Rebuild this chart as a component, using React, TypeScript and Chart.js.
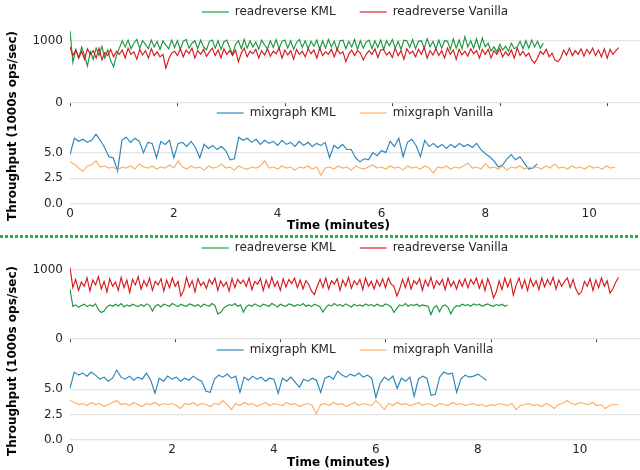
import React, { useEffect, useRef } from "react";
import { Chart, registerables } from "chart.js";

Chart.register(...registerables);

const FONT = "'DejaVu Sans', 'Liberation Sans', sans-serif";
const TEXT = "#262626";
const GRID = "#e4e4e4";

// tick labels
const X_TICKS = [0, 2, 4, 6, 8, 10];
const RR_Y_TICKS = [0, 1000];
const MIX_Y_TICKS = [0, 2.5, 5.0];

// sampling intervals (minutes)
const RR_STEP_MIN = 0.054;
const MIX_STEP_MIN = 1 / 12;

// axis limits (minutes)
const TOP_RR_XMAX = 10.6;
const TOP_MIX_XMAX = 10.98;
const BOT_RR_XMAX = 10.83;
const BOT_MIX_XMAX = 11.18;

// ---------- Top run ----------
const topReadreverseKML = [
  1160, 650, 860, 720, 900, 760, 590, 820, 700, 880, 760, 910, 720, 850, 680, 580, 760, 880,
  1000, 900, 1010, 870, 960, 1020, 880, 1000, 940, 870, 1010, 900, 990, 860, 1000, 930, 870, 1010,
  890, 1000, 860, 990, 1020, 880, 960, 1000, 870, 1010, 900, 850, 990, 1010, 880, 1000, 860, 980,
  1010, 890, 780, 940, 1000, 870, 1020, 880, 1000, 900, 980, 860, 1010, 930, 870, 1000, 890, 1020,
  870, 990, 1010, 880, 1000, 860, 970, 1020, 890, 1000, 870, 990, 910, 1010, 860, 1000, 880, 1020,
  900, 990, 850, 1000, 1010, 870, 990, 900, 1020, 860, 1000, 880, 980, 1010, 870, 1000, 890, 1010,
  860, 1000, 920, 1020, 880, 990, 860, 1010, 1000, 890, 1020, 870, 990, 1000, 880, 1030, 900, 990,
  870, 1010, 880, 1000, 990, 860, 1030, 880, 1010, 870, 1065, 900, 1000, 880, 1030, 870, 1045, 900,
  960, 830, 900, 820, 940, 850, 910, 830, 960, 870, 900, 990, 870, 1000, 880, 1010, 900, 990,
  880, 960,
];
const topReadreverseVanilla = [
  900, 760, 850, 720, 830, 700, 870, 780, 840, 720, 880, 690, 810, 760, 860, 740, 830, 780,
  850, 720, 880, 780, 820, 700, 860, 770, 840, 720, 870, 760, 820, 740, 780, 560, 700, 800,
  830, 760, 870, 740, 850, 790, 880, 720, 840, 780, 860, 750, 820, 880, 760, 850, 720, 870,
  780, 840, 760, 850, 660, 800, 880, 740, 830, 790, 860, 720, 840, 770, 870, 750, 830, 790,
  880, 720, 850, 770, 840, 700, 860, 780, 830, 740, 870, 790, 850, 720, 880, 760, 820, 780,
  860, 740, 870, 790, 820, 660, 780, 850, 760, 840, 800, 690, 780, 840, 780, 870, 730, 850,
  860, 770, 820, 730, 880, 760, 840, 700, 870, 790, 830, 740, 860, 780, 890, 720, 840, 770,
  870, 760, 840, 720, 880, 780, 850, 700, 860, 770, 830, 750, 870, 790, 840, 720, 860, 780,
  860, 720, 840, 780, 870, 740, 820, 760, 850, 720, 880, 760, 830, 750, 800, 690, 640, 720,
  830, 780, 860, 740, 800, 690, 660, 720, 850, 770, 880, 760, 840, 780, 870, 750, 860, 790,
  880, 760, 850, 740, 870, 720, 860, 780, 840, 890,
];
const topMixgraphKML = [
  4.8, 6.4, 6.1, 6.3, 6.0, 6.2, 6.8, 6.2, 5.5, 4.6, 4.5, 3.2,
  6.2, 6.5, 6.0, 6.4, 6.1, 5.0, 6.0, 5.9, 4.5, 6.1, 5.8, 6.2,
  4.5, 5.9, 6.0, 5.6, 6.1, 5.5, 4.5, 5.8, 5.4, 5.7, 5.3, 5.6,
  5.2, 4.3, 4.4, 6.5, 6.2, 6.4, 6.0, 6.3, 5.8, 6.2, 5.9, 6.1,
  5.7, 6.2, 5.8, 6.0, 5.6, 6.1, 5.7, 6.0, 5.6, 5.9, 5.7, 6.0,
  4.5, 5.7, 5.4, 5.8, 5.3, 5.3, 4.5, 4.1, 4.4, 4.3, 5.0, 4.7,
  5.2, 5.0, 6.1, 5.6, 6.4, 4.6, 6.0, 6.3, 5.7, 4.6, 6.2, 5.6,
  5.9, 5.5, 5.8, 5.4, 5.8, 5.5, 5.9, 5.6, 5.8, 5.5, 5.9, 5.3,
  4.9, 4.6, 4.2, 3.6, 3.8, 4.4, 4.8, 4.3, 4.6, 4.0, 3.4, 3.5, 3.9,
];
const topMixgraphVanilla = [
  4.1, 3.9, 3.5, 3.2, 3.7, 3.8, 4.2, 3.6, 3.7, 3.5, 3.6, 3.3,
  3.6, 3.5, 3.7, 3.4, 3.9, 3.6, 3.5, 3.7, 3.4, 3.6, 3.5, 3.8,
  3.5, 4.2, 3.6, 3.4, 3.7, 3.5, 3.6, 3.3, 3.7, 3.5, 3.6, 3.9,
  3.5, 3.6, 3.3, 3.7, 3.5, 3.4, 3.6, 3.5, 3.7, 4.2, 3.5, 3.6,
  3.4, 3.7, 3.5, 3.6, 3.3, 3.6, 3.5, 3.7, 3.4, 3.6, 2.8, 3.5,
  3.6, 3.4, 3.7, 3.5, 3.6, 3.3, 3.7, 3.5, 3.4, 3.6, 3.8, 3.5,
  3.6, 3.4, 3.7, 3.5, 3.6, 3.3, 3.7, 3.5, 3.6, 3.4, 3.7, 3.5,
  3.0, 3.6, 3.5, 3.7, 3.4, 3.6, 3.5, 3.7, 4.0, 3.5, 3.6, 3.4,
  3.9, 3.5, 3.6, 3.4, 3.7, 3.3, 3.6, 3.5, 3.7, 3.4, 3.6, 3.5,
  3.6, 3.4, 3.7, 3.5, 3.9, 3.5, 3.6, 3.4, 3.7, 3.5, 3.6, 3.4,
  3.7, 3.5, 3.6, 3.4, 3.7, 3.5, 3.6,
];

// ---------- Bottom run ----------
const botReadreverseKML = [
  720, 470, 490, 455, 480, 500, 465, 490, 470, 505, 420, 380, 400, 460, 490, 470, 500, 475,
  510, 460, 490, 470, 500, 480, 465, 495, 470, 505, 480, 400, 470, 495, 460, 500, 485, 470,
  510, 490, 465, 500, 480, 470, 505, 490, 470, 495, 460, 500, 485, 470, 510, 480, 360, 380,
  440, 470, 495, 480, 510, 470, 490, 385, 460, 490, 470, 505, 480, 465, 500, 485, 470, 510,
  490, 460, 500, 480, 470, 505, 490, 470, 495, 480, 510, 470, 490, 465, 500, 480, 460, 385,
  450, 490, 475, 510, 480, 495, 470, 505, 480, 460, 500, 475, 490, 470, 505, 480, 495, 470,
  500, 480, 470, 505, 490, 460, 380, 440, 490, 475, 510, 470, 495, 480, 500, 470, 490, 480,
  470, 350, 450, 480, 390, 470, 490, 455, 360, 440, 480, 470, 500, 480, 495, 470, 505, 485,
  500, 470, 490, 505, 480, 470, 495, 480, 500, 470, 490,
];
const botReadreverseVanilla = [
  1030, 740, 860, 700, 820, 760, 880, 690, 850, 780, 900, 720, 830, 680, 870, 760, 820, 700,
  890, 740, 850, 670, 860, 780, 900, 720, 840, 760, 880, 700, 830, 780, 870, 690, 850, 740,
  880, 760, 830, 620, 700, 890, 750, 840, 680, 870, 770, 820, 730, 860, 790, 880, 700, 840,
  760, 820, 690, 870, 740, 860, 800, 850, 760, 880, 710, 830, 790, 870, 700, 850, 740, 890,
  760, 830, 700, 870, 750, 860, 800, 880, 740, 850, 720, 840, 790, 690, 640, 760, 860, 740,
  880, 720, 840, 790, 870, 700, 850, 760, 890, 730, 840, 780, 860, 710, 880, 760, 830, 720,
  850, 760, 870, 740, 880, 790, 760, 620, 720, 860, 740, 880, 720, 840, 790, 870, 700, 850,
  760, 890, 730, 840, 780, 860, 710, 880, 760, 830, 720, 850, 760, 870, 740, 860, 790, 880,
  730, 850, 700, 870, 760, 590, 680, 840, 710, 880, 750, 860, 630, 780, 880, 730, 850, 700,
  870, 760, 840, 710, 880, 750, 860, 780, 890, 720, 850, 760, 830, 880, 740, 860, 720, 640,
  680, 830, 760, 870, 700, 850, 740, 880, 760, 840, 660, 720, 820, 890,
];
const botMixgraphKML = [
  5.1, 6.7, 6.4, 6.6, 6.3, 6.7, 6.4, 6.0, 6.2, 5.8, 6.1, 6.9,
  6.2, 6.0, 6.3, 5.9, 6.2, 6.0, 6.6, 5.9, 4.6, 6.1, 5.8, 6.3,
  6.0, 6.2, 5.8, 6.1, 5.9, 6.3, 6.0, 5.8, 4.8, 4.7, 6.0, 6.4,
  6.2, 6.5, 6.1, 6.3, 4.7, 6.2, 5.9, 6.3, 6.0, 6.2, 5.8, 6.1,
  6.0, 4.6, 6.1, 5.8, 6.2, 5.7, 5.2, 6.0, 5.8, 6.1, 5.9, 4.7,
  6.1, 6.3, 6.0, 6.8, 6.4, 6.2, 6.5, 6.3, 6.6, 6.2, 6.4, 6.1,
  4.2, 5.6, 6.2, 5.9, 6.3, 5.1, 6.1, 5.8, 6.2, 4.3, 6.0, 6.3,
  6.1, 4.4, 4.5, 6.2, 6.7, 6.5, 6.6, 4.7, 6.0, 6.4, 6.2, 6.3,
  6.5, 6.2, 5.9,
];
const botMixgraphVanilla = [
  3.9, 3.7, 3.5, 3.6, 3.4, 3.7, 3.5, 3.6, 3.3, 3.5, 3.7, 3.9,
  3.5, 3.6, 3.4, 3.7, 3.5, 3.3, 3.6, 3.5, 3.7, 3.4, 3.6, 3.5,
  3.6, 3.4, 3.1, 3.6, 3.5, 3.7, 3.4, 3.6, 3.5, 3.3, 3.6, 3.5,
  3.9, 3.5, 3.0, 3.6, 3.4, 3.7, 3.5, 3.6, 3.3, 3.5, 3.7, 3.4,
  3.6, 3.5, 3.4, 3.7, 3.5, 3.6, 3.3, 3.5, 3.6, 3.4, 2.6, 3.5,
  3.6, 3.4, 3.7, 3.5, 3.6, 3.3, 3.5, 3.7, 3.4, 3.6, 3.5, 3.4,
  3.9, 3.5, 3.0, 3.6, 3.4, 3.7, 3.5, 3.6, 3.4, 3.5, 3.7, 3.4,
  3.6, 3.5, 3.3, 3.6, 3.5, 3.4, 3.7, 3.5, 3.6, 3.4, 3.5, 3.6,
  3.4, 3.5, 3.3, 3.5, 3.4, 3.6, 3.5, 3.4, 3.6, 3.0, 3.4, 3.5,
  3.6, 3.4, 3.5, 3.3, 3.6, 3.4, 3.1, 3.5, 3.6, 3.9, 3.6, 3.5,
  3.7, 3.6, 3.5, 3.7, 3.4, 3.5, 3.1, 3.4, 3.5, 3.5,
];

const C_RR_KML = "#1a9641";
const C_RR_VAN = "#d7191c";
const C_MIX_KML = "#2b83ba";
const C_MIX_VAN = "#fdae61";

type Series = { label: string; values: number[]; color: string; step: number; order: number };
type PanelProps = {
  top: number;
  height: number;
  series: Series[];
  xMax: number;
  yMax: number;
  yTicks: number[];
  yDecimals: number;
  xLabels: boolean;
  xAxisH: number;
};

function Panel(p: PanelProps) {
  const ref = useRef<HTMLCanvasElement>(null);
  useEffect(() => {
    const chart = new Chart(ref.current as HTMLCanvasElement, {
      type: "line",
      data: {
        datasets: p.series.map((s) => ({
          label: s.label,
          data: s.values.map((v, i) => ({ x: i * s.step, y: v })),
          borderColor: s.color,
          backgroundColor: s.color,
          borderWidth: 1.15,
          pointRadius: 0,
          pointHoverRadius: 0,
          pointStyle: "line",
          tension: 0,
          fill: false,
          order: s.order,
        })),
      },
      options: {
        animation: false,
        responsive: false,
        events: [],
        layout: { padding: 0 },
        plugins: {
          tooltip: { enabled: false },
          legend: {
            display: true,
            position: "top",
            fullSize: false,
            labels: {
              usePointStyle: true,
              pointStyleWidth: 27,
              padding: 24,
              color: TEXT,
              font: { family: FONT, size: 12 },
              sort: (a: any, b: any) => a.datasetIndex - b.datasetIndex,
            },
          },
        },
        scales: {
          x: {
            type: "linear",
            min: 0,
            max: p.xMax,
            afterBuildTicks: (s: any) => {
              s.ticks = X_TICKS.map((v) => ({ value: v }));
            },
            afterFit: (s: any) => {
              s.height = p.xAxisH;
              s.paddingLeft = 0;
              s.paddingRight = 0;
            },
            grid: {
              display: true,
              drawOnChartArea: false,
              drawTicks: !p.xLabels,
              tickLength: 3.5,
              tickColor: "#444",
              tickWidth: 1,
            },
            border: { display: false },
            ticks: {
              display: p.xLabels,
              padding: 2.5,
              color: TEXT,
              maxRotation: 0,
              autoSkip: false,
              font: { family: FONT, size: 12 },
            },
          },
          y: {
            type: "linear",
            min: 0,
            max: p.yMax,
            afterBuildTicks: (s: any) => {
              s.ticks = p.yTicks.map((v) => ({ value: v }));
            },
            afterFit: (s: any) => {
              s.width = 70;
              s.paddingTop = 0;
              s.paddingBottom = 0;
            },
            grid: { color: GRID, lineWidth: 1.3, drawTicks: false },
            border: { display: false },
            ticks: {
              padding: 7,
              color: TEXT,
              font: { family: FONT, size: 12 },
              callback: (v: any) => Number(v).toFixed(p.yDecimals),
            },
          },
        },
      } as any,
    });
    return () => chart.destroy();
  }, []);
  return (
    <canvas
      ref={ref}
      width={640}
      height={p.height}
      style={{ position: "absolute", left: 0, top: p.top, width: 640, height: p.height, display: "block" }}
    />
  );
}

const labelStyle: React.CSSProperties = {
  position: "absolute",
  fontFamily: FONT,
  fontWeight: "bold",
  fontSize: 12,
  lineHeight: "14px",
  color: "#000",
  whiteSpace: "nowrap",
};

function Group(props: {
  rrTop: number;
  rrYMax: number;
  rrXMax: number;
  mixTop: number;
  mixHeight: number;
  mixYMax: number;
  mixXMax: number;
  rrKml: number[];
  rrVan: number[];
  mixKml: number[];
  mixVan: number[];
  yLabelY: number;
  xLabelY: number;
}) {
  return (
    <>
      <Panel
        top={props.rrTop}
        height={125}
        xMax={props.rrXMax}
        yMax={props.rrYMax}
        yTicks={RR_Y_TICKS}
        yDecimals={0}
        xLabels={false}
        xAxisH={4.3}
        series={[
          { label: "readreverse KML", values: props.rrKml, color: C_RR_KML, step: RR_STEP_MIN, order: 1 },
          { label: "readreverse Vanilla", values: props.rrVan, color: C_RR_VAN, step: RR_STEP_MIN, order: 0 },
        ]}
      />
      <Panel
        top={props.mixTop}
        height={props.mixHeight}
        xMax={props.mixXMax}
        yMax={props.mixYMax}
        yTicks={MIX_Y_TICKS}
        yDecimals={1}
        xLabels={true}
        xAxisH={20}
        series={[
          { label: "mixgraph KML", values: props.mixKml, color: C_MIX_KML, step: MIX_STEP_MIN, order: 1 },
          { label: "mixgraph Vanilla", values: props.mixVan, color: C_MIX_VAN, step: MIX_STEP_MIN, order: 0 },
        ]}
      />
      <div
        style={{
          ...labelStyle,
          left: 12,
          top: props.yLabelY,
          transform: "translate(-50%, -50%) rotate(-90deg)",
        }}
      >
        Throughput (1000s ops/sec)
      </div>
      <div style={{ ...labelStyle, left: 338.5, top: props.xLabelY - 7, transform: "translateX(-50%)" }}>
        Time (minutes)
      </div>
    </>
  );
}

export default function App() {
  return (
    <div
      style={{
        position: "fixed",
        left: 0,
        top: 0,
        width: 640,
        height: 470,
        background: "#fff",
        overflow: "hidden",
      }}
    >
      <Group
        rrTop={-18}
        rrYMax={1205}
        rrXMax={TOP_RR_XMAX}
        mixTop={83}
        mixHeight={141}
        mixYMax={7.3}
        mixXMax={TOP_MIX_XMAX}
        rrKml={topReadreverseKML}
        rrVan={topReadreverseVanilla}
        mixKml={topMixgraphKML}
        mixVan={topMixgraphVanilla}
        yLabelY={126}
        xLabelY={225}
      />
      <Group
        rrTop={218}
        rrYMax={1083}
        rrXMax={BOT_RR_XMAX}
        mixTop={320}
        mixHeight={140}
        mixYMax={7.3}
        mixXMax={BOT_MIX_XMAX}
        rrKml={botReadreverseKML}
        rrVan={botReadreverseVanilla}
        mixKml={botMixgraphKML}
        mixVan={botMixgraphVanilla}
        yLabelY={361}
        xLabelY={461.7}
      />
      <div
        style={{
          position: "absolute",
          left: 0,
          top: 235,
          width: 640,
          height: 3,
          background: "repeating-linear-gradient(90deg, #1db34f 0px, #1db34f 3px, transparent 3px, transparent 5px)",
          zIndex: 5,
        }}
      />
    </div>
  );
}
